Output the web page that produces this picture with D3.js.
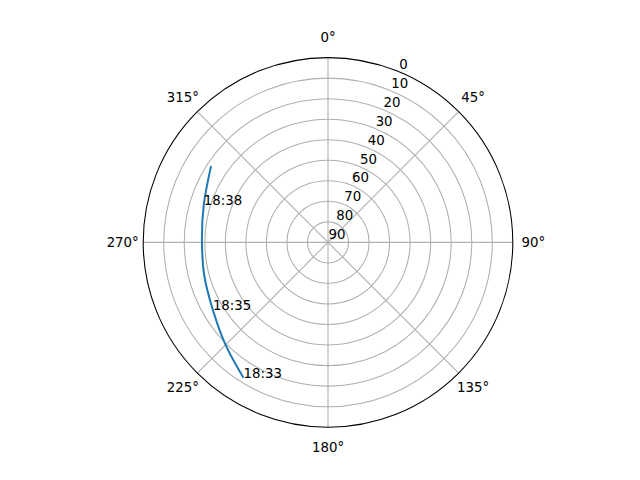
<!DOCTYPE html>
<html><head><meta charset="utf-8">
<script src="https://cdn.jsdelivr.net/npm/d3@7"></script>
<style>body{margin:0;background:#fff}text{font-family:"DejaVu Sans";font-size:13.33px;fill:#000}</style>
</head><body>
<script>
const times = ["18:33","18:34","18:35","18:36","18:37","18:38","18:39"];
const azimuth = [212.0, 224.9, 239.6, 254.9, 270.9, 286.8, 303.1];
const elevation = [12.3, 19.4, 25.0, 27.6, 28.6, 26.8, 22.0];
const labelTimes = ["18:33","18:35","18:38"];
const elevTicks = [0,10,20,30,40,50,60,70,80,90];
const azTicks = [0,45,90,135,180,225,270,315];

const W=640,H=480,cx=328,cy=242.4,R=184.8;
const svg=d3.select("body").append("svg").attr("width",W).attr("height",H);
const r=d3.scaleLinear().domain([90,0]).range([0,R]);
const rad=d=>d*Math.PI/180;
const px=(az,el)=>[cx+r(el)*Math.sin(rad(az)), cy-r(el)*Math.cos(rad(az))];
const g=svg.append("g");
// rings
g.selectAll("circle.ring").data(elevTicks.filter(e=>e<90&&e>0)).enter().append("circle")
 .attr("cx",cx).attr("cy",cy).attr("r",d=>r(d)).attr("fill","none").attr("stroke","#b0b0b0").attr("stroke-width",1.07);
// spokes
g.selectAll("line.spoke").data(azTicks).enter().append("line")
 .attr("x1",cx).attr("y1",cy).attr("x2",d=>px(d,0)[0]).attr("y2",d=>px(d,0)[1])
 .attr("stroke","#b0b0b0").attr("stroke-width",1.07);
// spine
g.append("circle").attr("cx",cx).attr("cy",cy).attr("r",R).attr("fill","none").attr("stroke","#000").attr("stroke-width",1.07);
// radial labels
g.selectAll("text.rl").data(elevTicks).enter().append("text")
 .attr("x",d=>px(22.5,d)[0]+0.5).attr("y",d=>px(22.5,d)[1]-3).attr("text-anchor","start").text(d=>d);
// angle labels
const LR=R+20.5;
g.selectAll("text.al").data(azTicks).enter().append("text")
 .attr("x",d=>cx+LR*Math.sin(rad(d))).attr("y",d=>cy-LR*Math.cos(rad(d))).attr("dy","0.36em")
 .attr("text-anchor","middle").text(d=>d+"°");
// track
const idx=d3.range(times.length);
const line=d3.lineRadial().curve(d3.curveCatmullRom.alpha(0.5))
 .angle(i=>rad(azimuth[i])).radius(i=>r(elevation[i]));
g.append("path").attr("transform",`translate(${cx},${cy})`).attr("d",line(idx))
 .attr("fill","none").attr("stroke","#1f77b4").attr("stroke-width",2);
g.selectAll("text.tl").data(labelTimes).enter().append("text")
 .attr("x",d=>px(azimuth[times.indexOf(d)],elevation[times.indexOf(d)])[0])
 .attr("y",d=>px(azimuth[times.indexOf(d)],elevation[times.indexOf(d)])[1]).text(d=>d);
</script>
</body></html>
